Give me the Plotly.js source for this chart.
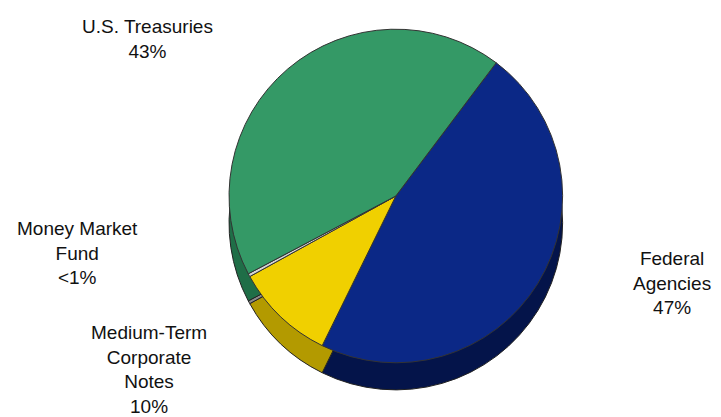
<!DOCTYPE html>
<html>
<head>
<meta charset="utf-8">
<script src="https://cdn.plot.ly/plotly-3.0.1.min.js"></script>
<style>html,body{margin:0;padding:0;background:#fff}#chart{width:721px;height:417px}</style>
</head>
<body>
<div id="chart"></div>
<script>
// Data (portfolio allocation, percent)
const categories = ["Federal Agencies", "Medium-Term Corporate Notes", "Money Market Fund", "U.S. Treasuries"];
const values = [47, 9.7, 0.3, 43];
const valueLabels = ["47%", "10%", "<1%", "43%"];
const displayLabels = ["Federal<br>Agencies<br>47%", "Medium-Term<br>Corporate<br>Notes<br>10%", "Money Market<br>Fund<br><1%", "U.S. Treasuries<br>43%"];

const topColors = ["#0b2886", "#f0d000", "#d4d4d4", "#349966"];
const sideColors = ["#04144a", "#b39a00", "#8a8a8a", "#1f6e47"];

const cx = 0.549, cy = 0.53, rx = 0.232, ry = 0.40;
const depth = 0.065;

const sideTrace = {
  type: "pie",
  values: values,
  labels: categories,
  sort: false,
  direction: "clockwise",
  rotation: 37,
  marker: {colors: sideColors, line: {color: "#222", width: 1}},
  textinfo: "none",
  hoverinfo: "skip",
  showlegend: false,
  domain: {x: [cx - rx, cx + rx], y: [cy - ry - depth, cy + ry - depth]}
};
const topTrace = {
  type: "pie",
  values: values,
  labels: categories,
  text: valueLabels,
  sort: false,
  direction: "clockwise",
  rotation: 37,
  marker: {colors: topColors, line: {color: "#333", width: 1}},
  textinfo: "none",
  hoverinfo: "label+text",
  showlegend: false,
  domain: {x: [cx - rx, cx + rx], y: [cy - ry, cy + ry]}
};

const labelPos = [
  [0.932, 0.321],
  [0.207, 0.115],
  [0.108, 0.394],
  [0.205, 0.907]
];
const annotations = displayLabels.map((t, i) => ({
  text: t, xref: "paper", yref: "paper",
  x: labelPos[i][0], y: labelPos[i][1],
  xanchor: "center", yanchor: "middle",
  showarrow: false, align: "center",
  font: {family: "Liberation Sans, Arial, sans-serif", size: 19, color: "#111"}
}));

Plotly.newPlot("chart", [sideTrace, topTrace], {
  width: 721, height: 417,
  margin: {l: 0, r: 0, t: 0, b: 0},
  paper_bgcolor: "#ffffff",
  showlegend: false,
  annotations: annotations
}, {displayModeBar: false, staticPlot: true});
</script>
</body>
</html>
